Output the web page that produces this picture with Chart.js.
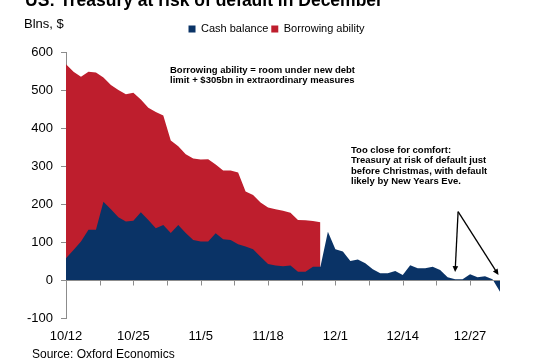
<!DOCTYPE html>
<html><head><meta charset="utf-8">
<script src="https://cdn.jsdelivr.net/npm/chart.js@4.4.0/dist/chart.umd.min.js"></script>
<style>html,body{margin:0;padding:0;background:#fff;}</style>
</head><body>
<canvas id="c" width="558" height="360"></canvas>
<script>
// Business days, 12 Oct - 31 Dec
const dates = ['10/12','10/13','10/14','10/15','10/18','10/19','10/20','10/21','10/22','10/25','10/26','10/27','10/28','10/29',
  '11/1','11/2','11/3','11/4','11/5','11/8','11/9','11/10','11/11','11/12','11/15','11/16','11/17','11/18','11/19','11/22',
  '11/23','11/24','11/25','11/26','11/29','11/30','12/1','12/2','12/3','12/6','12/7','12/8','12/9','12/10','12/13','12/14',
  '12/15','12/16','12/17','12/20','12/21','12/22','12/23','12/24','12/27','12/28','12/29','12/30','12/31'];
const cashBalance = [57,79,101,132,132,206,186,165,154,156,178,158,136,145,124,145,124,105,101,101,123,107,105,94,88,81,61,42,38,36,
  38,22,22,35,35,127,81,75,50,54,44,28,18,18,24,13,39,31,31,35,26,7,2,2,15,7,10,2,-31];
const borrowingAbility = [568,548,535,548,546,533,513,500,489,493,475,453,442,433,367,352,331,320,317,318,304,288,288,283,233,224,204,191,186,182,
  177,158,157,155,152,null,null,null,null,null,null,null,null,null,null,null,null,null,null,null,null,null,null,null,null,null,null,null,null];
const yMin = -100, yMax = 600, yStep = 100;
const labelEvery = 9, tickEvery = 4.5;
const seriesNames = ['Cash balance', 'Borrowing ability'];
const title = 'US: Treasury at risk of default in December';
const unitLabel = 'Blns, $';
const source = 'Source: Oxford Economics';
const note1 = ['Borrowing ability = room under new debt', 'limit + $305bn in extraordinary measures'];
const note2 = ['Too close for comfort:', 'Treasury at risk of default just', 'before Christmas, with default', 'likely by New Years Eve.'];
const arrowTargets = [[52, 21], [57.8, 13]];
const arrowFrom = [52.4, 180];

const FONT = "'Liberation Sans', Arial, sans-serif";
const NAVY = '#0a3366', RED = '#be1e2d', AXIS = '#8c8c8c';

const legendTweak = {
  id: 'legendTweak',
  beforeLayout(chart) {
    const lg = chart.legend;
    if (lg && !lg._patched) {
      const orig = lg.fit;
      lg.fit = function () { orig.call(this); this.height += 7.5; };
      lg._patched = true;
    }
  },
  afterLayout(chart) {
    const lg = chart.legend;
    if (lg) { lg.left += 17; lg.right += 17; }
  }
};

const extras = {
  id: 'extras',
  afterDatasetsDraw(chart) {
    const {ctx, scales: {x, y}} = chart;
    const y0 = Math.round(y.getPixelForValue(0)) + 0.5;
    ctx.save();
    ctx.strokeStyle = AXIS; ctx.lineWidth = 1;
    ctx.beginPath();
    ctx.moveTo(x.left, y0); ctx.lineTo(x.right, y0);
    x.ticks.forEach(t => {
      const px = Math.round(x.getPixelForValue(t.value)) + 0.5;
      ctx.moveTo(px, y0); ctx.lineTo(px, y0 + 5);
    });
    ctx.stroke();
    ctx.restore();
  },
  afterDraw(chart) {
    const {ctx, scales: {x, y}} = chart;
    ctx.save();
    ctx.fillStyle = '#000';
    ctx.textAlign = 'left';
    ctx.font = 'bold 17.5px ' + FONT;
    ctx.textBaseline = 'alphabetic';
    ctx.fillText(title, 25, 6);
    ctx.font = '13px ' + FONT;
    ctx.textBaseline = 'middle';
    ctx.fillText(unitLabel, 24, 24);
    ctx.font = '12px ' + FONT;
    ctx.fillText(source, 32, 355);
    ctx.font = 'bold 9.5px ' + FONT;
    note1.forEach((l, i) => ctx.fillText(l, 170, 70 + i * 10.7));
    note2.forEach((l, i) => ctx.fillText(l, 351, 150 + i * 10.6));
    const sx = x.getPixelForValue(arrowFrom[0]), sy = y.getPixelForValue(arrowFrom[1]);
    ctx.strokeStyle = '#000'; ctx.fillStyle = '#000'; ctx.lineWidth = 1.3;
    arrowTargets.forEach(([tx, ty]) => {
      const ex = x.getPixelForValue(tx), ey = y.getPixelForValue(ty);
      const ang = Math.atan2(ey - sy, ex - sx);
      ctx.beginPath(); ctx.moveTo(sx, sy); ctx.lineTo(ex - 4 * Math.cos(ang), ey - 4 * Math.sin(ang)); ctx.stroke();
      ctx.beginPath();
      ctx.moveTo(ex, ey);
      ctx.lineTo(ex - 6 * Math.cos(ang) + 2.8 * Math.sin(ang), ey - 6 * Math.sin(ang) - 2.8 * Math.cos(ang));
      ctx.lineTo(ex - 6 * Math.cos(ang) - 2.8 * Math.sin(ang), ey - 6 * Math.sin(ang) + 2.8 * Math.cos(ang));
      ctx.closePath(); ctx.fill();
    });
    ctx.restore();
  }
};

new Chart(document.getElementById('c'), {
  type: 'line',
  data: {
    labels: dates.map((d, i) => i),
    datasets: [
      {label: seriesNames[0], data: cashBalance, backgroundColor: NAVY, borderColor: NAVY, borderWidth: 0, fill: 'origin', pointRadius: 0, tension: 0},
      {label: seriesNames[1], data: borrowingAbility, backgroundColor: RED, borderColor: RED, borderWidth: 0, fill: 'origin', pointRadius: 0, tension: 0, spanGaps: false}
    ]
  },
  options: {
    responsive: false, animation: false, devicePixelRatio: 1,
    layout: {padding: {left: 19, right: 58, top: 20.5, bottom: 4.4}},
    plugins: {
      legend: {
        display: true, position: 'top', align: 'center',
        labels: {font: {family: FONT, size: 11}, color: '#000', boxWidth: 7, boxHeight: 7, padding: 3}
      },
      tooltip: {enabled: false},
      filler: {propagate: false}
    },
    scales: {
      x: {
        type: 'linear', min: 0, max: dates.length - 1,
        grid: {display: false, drawTicks: false}, border: {display: false},
        ticks: {
          stepSize: tickEvery, includeBounds: false, autoSkip: false, maxRotation: 0, padding: 11,
          font: {family: FONT, size: 13}, color: '#000',
          callback: v => (v % labelEvery === 0 ? dates[v] : '')
        }
      },
      y: {
        min: yMin, max: yMax,
        border: {display: true, color: AXIS, width: 1},
        grid: {color: AXIS, drawOnChartArea: false, tickColor: AXIS, tickLength: 5, lineWidth: 1},
        ticks: {stepSize: yStep, padding: 8, font: {family: FONT, size: 13}, color: '#000'}
      }
    }
  },
  plugins: [legendTweak, extras]
});
</script>
</body></html>
